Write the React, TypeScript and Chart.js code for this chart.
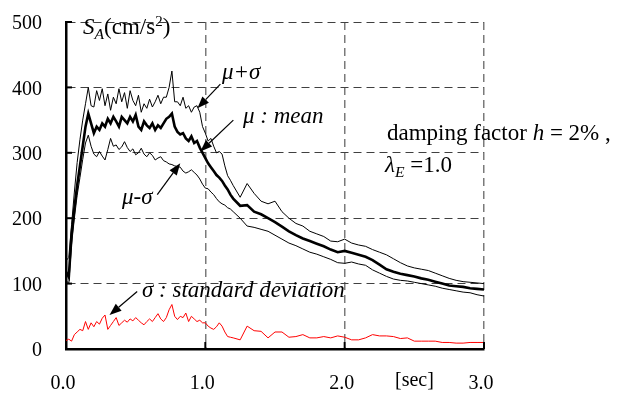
import React, { useEffect, useRef } from "react";
import { Chart, registerables } from "chart.js";
Chart.register(...registerables);

// time axis [sec]
const timeSec = [
  0.0, 0.02, 0.04, 0.06, 0.08, 0.1, 0.12, 0.14, 0.16, 0.18,
  0.2, 0.22, 0.24, 0.26, 0.28, 0.3, 0.32, 0.34, 0.36, 0.38,
  0.4, 0.42, 0.44, 0.46, 0.48, 0.5, 0.52, 0.54, 0.56, 0.58,
  0.6, 0.62, 0.64, 0.66, 0.68, 0.7, 0.72, 0.74, 0.76, 0.78,
  0.8, 0.82, 0.84, 0.86, 0.88, 0.9, 0.92, 0.94, 0.96, 0.98,
  1.0, 1.02, 1.04, 1.06, 1.08, 1.1, 1.12, 1.14, 1.16, 1.18,
  1.2, 1.25, 1.3, 1.35, 1.4, 1.45, 1.5, 1.55, 1.6, 1.65,
  1.7, 1.75, 1.8, 1.85, 1.9, 1.95, 2.0, 2.05, 2.1, 2.15,
  2.2, 2.25, 2.3, 2.35, 2.4, 2.45, 2.5, 2.55, 2.6, 2.65,
  2.7, 2.75, 2.8, 2.85, 2.9, 2.95, 3.0,
];

// mu + sigma
const meanPlusSigma = [
  135, 140, 190, 240, 285, 320, 350, 375, 400, 372,
  370, 395, 380, 398, 372, 390, 365, 385, 375, 398,
  378, 392, 368, 395, 380, 372, 388, 362, 375, 368,
  382, 370, 378, 388, 375, 385, 385, 400, 425, 378,
  378, 372, 385, 368, 372, 362, 370, 372, 362, 340,
  330, 318, 322, 310, 300, 302, 298, 280, 265, 258,
  250, 232, 253, 238, 226, 222, 226, 210, 200, 192,
  188, 180, 176, 172, 165, 164, 168, 162, 159, 157,
  152, 148, 144, 138, 132, 127, 124, 122, 120, 116,
  112, 108, 105, 103, 102, 101, 100,
];

// mu : mean
const meanValues = [
  118, 110, 175, 215, 250, 280, 310, 340, 360, 345,
  330, 340, 335, 345, 340, 352, 345, 355, 348, 340,
  355, 350, 345, 355, 348, 358, 340, 335, 348, 342,
  338, 345, 335, 342, 338, 345, 352, 355, 360, 340,
  332, 328, 330, 322, 318, 325, 315, 318, 308, 300,
  292, 284, 278, 272, 266, 262, 257, 250, 244, 236,
  230, 219, 220, 210, 206, 200, 194, 187, 180, 174,
  169, 165, 161, 157, 152, 148, 150, 147, 144, 141,
  136, 129, 122, 118, 115, 113, 111, 108, 106, 103,
  100, 97, 96, 95, 93, 92, 91,
];

// mu - sigma
const meanMinusSigma = [
  105, 100, 160, 200, 235, 262, 290, 315, 327, 310,
  298, 294, 302, 295, 289, 305, 322, 310, 312, 305,
  309, 317, 308, 302, 306, 297, 300, 307, 298, 294,
  300, 296, 289, 292, 294, 288, 286, 283, 282, 280,
  279, 278, 272, 269, 271, 274, 270, 266, 260, 252,
  246, 245, 240, 236, 230, 225, 222, 220, 216, 214,
  210, 200, 188, 186, 183, 180, 174, 168, 162, 158,
  153, 148, 145, 141, 137, 132, 131, 133, 130, 128,
  121, 116, 111, 107, 105, 104, 102, 100, 98, 96,
  93, 91, 89, 87, 86, 83, 81,
];

// sigma : standard deviation
const sigmaValues = [
  13, 15, 12, 22, 26, 30, 28, 42, 30, 40,
  34, 42, 38, 47, 52, 30, 36, 42, 48, 36,
  40, 44, 41, 46, 43, 48, 44, 40, 37, 42,
  46, 42, 48, 54, 46, 42, 48, 60, 68, 50,
  45, 50, 48, 55, 42, 50, 46, 42, 44, 40,
  40, 35, 32, 30, 34, 40, 35, 26, 19, 18,
  17, 14, 35, 28, 27, 17, 26, 26, 18, 19,
  22, 17, 17, 19, 17, 20, 18, 14, 14, 17,
  22, 20, 20, 19, 16, 17, 12, 12, 12, 12,
  10, 10, 9, 9, 10, 10, 10,
];

const xTickValues = [0, 1, 2, 3];
const yTickValues = [0, 100, 200, 300, 400, 500];

const SERIF = '"Liberation Serif", "Times New Roman", serif';

// annotation arrows in data units: [from, to(tip)]
const arrowDefs = [
  { from: [1.108, 405], to: [0.943, 368] },
  { from: [1.201, 350], to: [0.964, 302] },
  { from: [0.655, 236], to: [0.82, 284] },
  { from: [0.511, 88], to: [0.3125, 52] },
];

const textStyle: React.CSSProperties = {
  position: "absolute",
  whiteSpace: "nowrap",
  lineHeight: 1,
  fontFamily: SERIF,
  color: "#000",
};

function Label(props: { left: number; baseline: number; size: number; italic?: boolean; children: React.ReactNode }) {
  const top = props.baseline - 0.8375 * props.size;
  return (
    <div style={{ ...textStyle, left: props.left, top, fontSize: props.size, fontStyle: props.italic ? "italic" : "normal" }}>
      {props.children}
    </div>
  );
}

const subStyle: React.CSSProperties = { fontSize: "0.68em", position: "relative", top: "0.32em" };
const supStyle: React.CSSProperties = { fontSize: "0.65em", position: "relative", top: "-0.5em" };

export default function App() {
  const ref = useRef<HTMLCanvasElement>(null);

  useEffect(() => {
    document.body.style.margin = "0";
    const canvas = ref.current!;
    const toPts = (ys: number[]) => timeSec.map((x, i) => ({ x, y: ys[i] }));

    const overlay = {
      id: "overlay",
      afterDraw(chart: any) {
        const { ctx } = chart;
        const xs = chart.scales.x;
        const ys = chart.scales.y;
        ctx.save();
        ctx.strokeStyle = "#000";
        ctx.fillStyle = "#000";
        ctx.lineWidth = 2;
        yTickValues.forEach((v) => {
          if (v === 0) return;
          const py = ys.getPixelForValue(v);
          ctx.beginPath();
          ctx.moveTo(xs.left, py);
          ctx.lineTo(xs.left + 6, py);
          ctx.stroke();
        });
        xTickValues.forEach((v) => {
          if (v === 0) return;
          const px = xs.getPixelForValue(v);
          ctx.beginPath();
          ctx.moveTo(px, ys.bottom);
          ctx.lineTo(px, ys.bottom - 7);
          ctx.stroke();
        });
        arrowDefs.forEach((a) => {
          const x1 = xs.getPixelForValue(a.from[0]);
          const y1 = ys.getPixelForValue(a.from[1]);
          const x2 = xs.getPixelForValue(a.to[0]);
          const y2 = ys.getPixelForValue(a.to[1]);
          const ang = Math.atan2(y2 - y1, x2 - x1);
          const hl = 12;
          const hw = 4.5;
          const bx = x2 - hl * Math.cos(ang);
          const by = y2 - hl * Math.sin(ang);
          ctx.lineWidth = 1.2;
          ctx.beginPath();
          ctx.moveTo(x1, y1);
          ctx.lineTo(bx, by);
          ctx.stroke();
          ctx.beginPath();
          ctx.moveTo(x2, y2);
          ctx.lineTo(bx - hw * Math.sin(ang), by + hw * Math.cos(ang));
          ctx.lineTo(bx + hw * Math.sin(ang), by - hw * Math.cos(ang));
          ctx.closePath();
          ctx.fill();
        });
        ctx.restore();
      },
    };

    const chart = new Chart(canvas, {
      type: "line",
      data: {
        datasets: [
          { data: toPts(sigmaValues), borderColor: "#ff0000", borderWidth: 1, pointRadius: 0, tension: 0 },
          { data: toPts(meanPlusSigma), borderColor: "#000", borderWidth: 1, pointRadius: 0, tension: 0 },
          { data: toPts(meanMinusSigma), borderColor: "#000", borderWidth: 1, pointRadius: 0, tension: 0 },
          { data: toPts(meanValues), borderColor: "#000", borderWidth: 2.6, pointRadius: 0, tension: 0 },
        ],
      },
      options: {
        animation: false,
        responsive: false,
        maintainAspectRatio: false,
        events: [],
        layout: { padding: { left: 0, right: 136, top: 22, bottom: 0 } },
        plugins: { legend: { display: false }, tooltip: { enabled: false } },
        scales: {
          x: {
            type: "linear",
            min: 0,
            max: 3,
            afterFit: (s: any) => {
              s.height = 44;
              s.paddingLeft = 0;
              s.paddingRight = 0;
            },
            afterBuildTicks: (s: any) => {
              s.ticks = xTickValues.map((v) => ({ value: v }));
            },
            ticks: {
              callback: (v: any) => Number(v).toFixed(1),
              font: { family: SERIF, size: 20 },
              color: "#000",
              padding: 23,
              labelOffset: -3,
              maxRotation: 0,
              autoSkip: false,
            },
            grid: {
              color: (c: any) => (c.tick && c.tick.value === 0 ? "rgba(0,0,0,0)" : "#7a7a7a"),
              lineWidth: 1.5,
              drawTicks: false,
            },
            border: { display: true, color: "#000", width: 2.5, dash: [8, 5] },
          },
          y: {
            min: 0,
            max: 500,
            afterFit: (s: any) => {
              s.width = 66;
              s.paddingTop = 0;
              s.paddingBottom = 0;
            },
            afterBuildTicks: (s: any) => {
              s.ticks = yTickValues.map((v) => ({ value: v }));
            },
            ticks: {
              font: { family: SERIF, size: 20 },
              color: "#000",
              padding: 24,
              labelOffset: 2,
              autoSkip: false,
            },
            grid: {
              color: (c: any) => (c.tick && c.tick.value === 0 ? "rgba(0,0,0,0)" : "#404040"),
              lineWidth: 1,
              drawTicks: false,
            },
            border: { display: true, color: "#000", width: 2.5, dash: [8, 5] },
          },
        },
      },
      plugins: [overlay],
    } as any);
    return () => chart.destroy();
  }, []);

  return (
    <div style={{ position: "relative", width: 620, height: 393, background: "#fff", overflow: "hidden" }}>
      <canvas ref={ref} width={620} height={393} style={{ position: "absolute", left: 0, top: 0, width: 620, height: 393 }} />
      <Label left={83} baseline={34} size={23}>
        <i>S</i>
        <i style={subStyle}>A</i>(cm/s<span style={supStyle}>2</span>)
      </Label>
      <Label left={395} baseline={386} size={20}>[sec]</Label>
      <Label left={387} baseline={140} size={23}>
        damping factor <i>h</i> = 2% ,
      </Label>
      <Label left={385} baseline={172} size={23}>
        <i>λ</i>
        <i style={subStyle}>E</i> =1.0
      </Label>
      <Label left={222} baseline={79} size={23} italic>μ+σ</Label>
      <Label left={243} baseline={123} size={23} italic>μ : mean</Label>
      <Label left={122} baseline={204} size={23} italic>μ-σ</Label>
      <Label left={142} baseline={297} size={23} italic>σ : standard deviation</Label>
    </div>
  );
}
